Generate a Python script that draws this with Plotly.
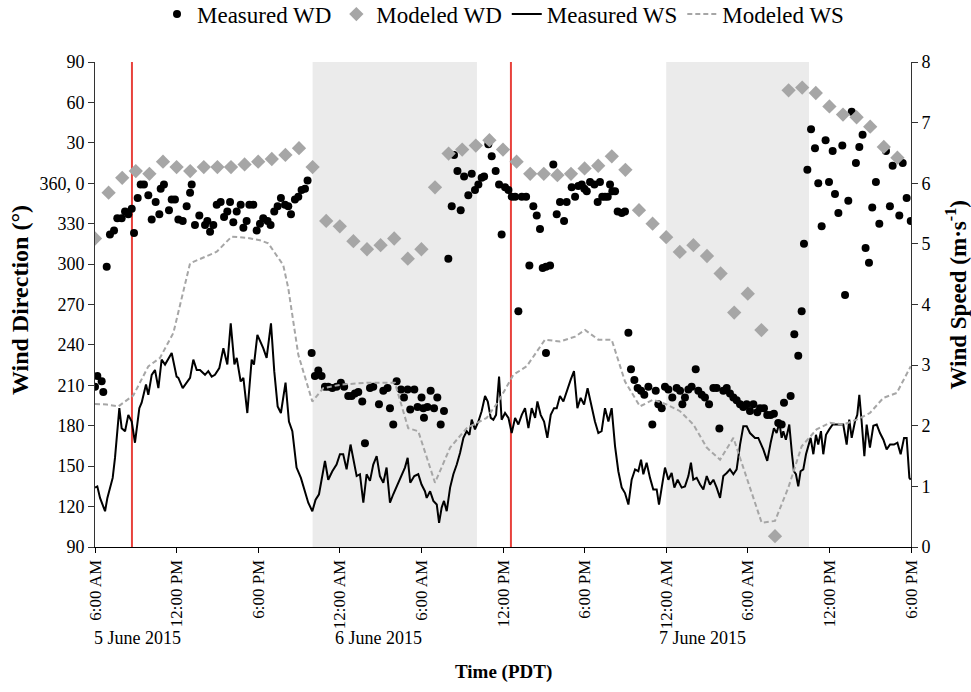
import plotly.graph_objects as go
import pandas as pd

# ---------------- data (hours since 06:00 PDT, 5 June 2015) ----------------
START = "2015-06-05 06:00"

WS_MEAS_H = [0.00, 0.17, 0.37, 0.61, 0.74, 0.91, 1.10, 1.30, 1.47, 1.54, 1.79, 1.96, 2.21, 2.45, 2.70, 2.94,
             3.26, 3.43, 3.75, 3.92, 4.17, 4.41, 4.66, 4.90, 5.15, 5.64, 6.00, 6.13, 6.45, 6.99, 7.23, 7.48,
             7.72, 8.09, 8.33, 8.58, 8.82, 9.14, 9.44, 9.73, 9.98, 10.25, 10.42, 10.71, 10.91, 11.20, 11.52,
             11.69, 11.94, 12.37, 12.62, 12.94, 13.18, 13.43, 13.67, 14.01, 14.26, 14.51, 14.82, 15.14, 15.44,
             15.68, 15.98, 16.22, 16.47, 16.66, 16.91, 17.15, 17.45, 17.76, 18.01, 18.25, 18.50, 18.79, 19.04,
             19.24, 19.48, 19.73, 19.97, 20.22, 20.46, 20.71, 20.95, 21.20, 21.44, 21.69, 21.93, 22.18, 22.50,
             22.79, 22.99, 23.18, 23.48, 23.77, 24.01, 24.26, 24.39, 24.64, 24.88, 25.13, 25.30, 25.49, 25.66,
             25.86, 26.11, 26.35, 26.60, 26.84, 27.09, 27.33, 27.53, 27.70, 27.94, 28.19, 28.43, 28.68, 28.88,
             29.10, 29.29, 29.49, 29.71, 29.90, 30.15, 30.40, 30.64, 30.89, 31.13, 31.38, 31.62, 31.87, 32.11,
             32.36, 32.53, 32.77, 33.02, 33.26, 33.51, 33.75, 33.95, 34.19, 34.44, 34.68, 34.98, 35.22, 35.47,
             35.71, 35.96, 36.22, 36.52, 36.76, 37.01, 37.25, 37.50, 37.75, 37.99, 38.24, 38.48, 38.73, 38.97,
             39.22, 39.46, 39.71, 39.95, 40.15, 40.32, 40.56, 40.81, 41.05, 41.30, 41.47, 41.67, 41.91, 42.16,
             42.40, 42.60, 42.84, 43.14, 43.38, 43.63, 43.82, 43.99, 44.24, 44.49, 44.73, 44.98, 45.22, 45.47,
             45.71, 45.96, 46.20, 46.45, 46.69, 46.94, 47.18, 47.43, 47.67, 47.92, 48.16, 48.53, 48.77, 49.14,
             49.43, 49.68, 49.92, 50.12, 50.32, 50.49, 50.61, 50.80, 51.05, 51.25, 51.39, 51.54, 51.71, 51.88,
             52.08, 52.28, 52.45, 52.62, 52.82, 53.01, 53.18, 53.38, 53.55, 53.75, 53.99, 54.24, 54.48, 54.73,
             55.02, 55.27, 55.46, 55.64, 55.88, 56.05, 56.20, 56.37, 56.57, 56.74, 56.98, 57.23, 57.48, 57.72,
             57.97, 58.21, 58.46, 58.75, 59.00, 59.24, 59.49, 59.68, 59.88, 59.98]
WS_MEAS = [0.98, 1.00, 0.81, 0.65, 0.59, 0.81, 0.98, 1.14, 1.47, 1.64, 2.29, 1.96, 1.91, 2.18, 2.07, 1.72,
           2.29, 2.38, 2.68, 2.51, 2.84, 2.92, 2.62, 3.09, 3.01, 3.20, 2.81, 2.79, 2.62, 2.79, 3.09, 2.92,
           2.92, 2.84, 2.90, 2.81, 2.84, 2.95, 3.28, 3.01, 3.69, 3.01, 3.12, 2.73, 2.79, 2.21, 3.09,
           3.01, 3.50, 3.28, 3.12, 3.69, 2.90, 2.32, 2.21, 2.71, 2.07, 1.91, 1.31, 1.14, 0.92,
           0.73, 0.59, 0.78, 0.87, 1.09, 1.42, 1.11, 1.25, 1.36, 1.53, 1.53, 1.28, 1.69, 1.42,
           1.17, 1.20, 0.73, 1.20, 1.09, 1.36, 1.50, 1.17, 1.06, 1.31, 0.73, 0.87, 1.00, 1.14,
           1.31, 1.47, 1.06, 1.17, 1.20, 1.03, 0.92, 0.81, 0.92, 0.76, 0.70, 0.40, 0.65, 0.76,
           0.59, 0.98, 1.20, 1.36, 1.55, 1.80, 1.91, 1.85, 2.10, 1.94, 2.07, 2.24, 2.49, 2.40,
           2.13, 2.10, 2.18, 2.81, 2.10, 2.21, 2.13, 1.88, 2.13, 2.02, 2.18, 2.29, 1.96, 2.29,
           2.13, 2.40, 2.18, 2.07, 1.80, 2.18, 2.29, 2.29, 2.49, 2.40, 2.57, 2.76, 2.90, 2.29,
           2.46, 2.35, 2.62, 2.29, 2.07, 1.88, 1.91, 2.29, 2.07, 2.29, 1.66, 1.25, 0.98, 0.89,
           0.70, 1.11, 1.28, 1.25, 1.44, 1.20, 1.39, 1.14, 0.95, 0.95, 0.70, 0.98, 1.31, 1.11,
           1.22, 0.98, 1.11, 0.98, 1.00, 1.17, 1.39, 1.11, 1.14, 1.03, 0.95, 1.17, 1.03, 1.11,
           0.98, 0.81, 1.17, 1.22, 1.28, 1.20, 1.28, 1.69, 1.99, 1.99, 1.88, 1.80, 1.80, 1.61,
           1.42, 1.72, 1.96, 1.88, 2.05, 1.80, 1.91, 1.77, 2.02, 1.53, 1.25, 1.20, 1.00, 1.25,
           1.28, 1.53, 1.69, 1.80, 1.53, 1.85, 1.69, 1.91, 1.53, 1.85, 1.94, 2.02, 2.02, 2.02,
           2.02, 1.69, 2.10, 1.80, 2.07, 2.18, 2.51, 2.07, 1.50, 2.02, 1.64, 2.00, 2.02, 1.88,
           1.77, 1.61, 1.69, 1.69, 1.72, 1.53, 1.80, 1.80, 1.14, 1.11]

WS_MOD_H = [0.00, 0.86, 1.72, 2.82, 3.92, 4.78, 5.76, 6.99, 8.95, 10.05, 11.15, 12.13, 12.74, 13.84, 14.21,
            14.95, 15.98, 16.78, 18.13, 20.09, 22.05, 23.03, 23.77, 25.00, 26.11, 27.33, 28.80, 29.66, 30.76,
            31.74, 33.09, 34.19, 35.30, 36.03, 37.01, 37.99, 38.97, 40.07, 41.05, 42.03, 43.02, 44.00, 44.98,
            45.96, 46.94, 47.92, 49.02, 50.00, 50.98, 51.96, 53.06, 54.04, 55.02, 56.00, 56.98, 57.97, 58.95,
            59.98]
WS_MOD = [2.36, 2.35, 2.32, 2.50, 2.98, 3.12, 3.53, 4.68, 4.87, 5.12, 5.10, 5.06, 5.01, 4.65, 4.27,
          3.17, 2.40, 2.62, 2.68, 2.71, 2.71, 1.96, 1.91, 1.06, 1.64, 1.96, 2.13, 2.40, 2.84,
          2.98, 3.42, 3.39, 3.47, 3.58, 3.42, 3.42, 2.73, 2.32, 2.43, 2.35, 2.24, 2.02, 1.64,
          1.44, 1.80, 1.14, 0.40, 0.43, 0.98, 1.66, 1.94, 2.05, 2.02, 2.10, 2.21, 2.46, 2.54,
          2.98]

WD_MEAS_H = [0.00, 0.17, 0.49, 0.61, 0.86, 1.10, 1.40, 1.64, 1.96, 2.21, 2.45, 2.70, 2.87, 3.14, 3.36, 3.60,
             3.92, 4.17, 4.46, 4.73, 4.83, 5.07, 5.44, 5.64, 5.88, 6.13, 6.45, 6.74, 6.99, 7.11, 7.35, 7.67,
             8.09, 8.26, 8.46, 8.70, 8.95, 9.24, 9.49, 9.73, 9.93, 10.17, 10.42, 10.71, 10.91, 11.15, 11.35,
             11.64, 11.89, 12.13, 12.37, 12.69, 12.91, 13.18, 13.43, 13.67, 13.97, 14.21, 14.41, 14.70, 14.95,
             15.19, 15.44, 15.63, 15.93, 16.17, 16.42, 16.66, 16.91, 17.15, 17.45, 17.76, 18.08, 18.32, 18.62,
             18.87, 19.11, 19.36, 19.65, 19.85, 20.22, 20.46, 20.88, 21.20, 21.51, 21.69, 21.93, 22.18, 22.50,
             22.72, 22.99, 23.18, 23.48, 23.72, 24.01, 24.14, 24.19, 24.44, 24.68, 24.93, 25.17, 25.42, 25.66,
             25.98, 26.23, 26.40, 26.65, 26.89, 27.14, 27.45, 27.70, 27.94, 28.19, 28.43, 28.61, 28.92, 29.17,
             29.46, 29.71, 29.90, 30.15, 30.40, 30.64, 30.89, 31.13, 31.38, 31.70, 31.94, 32.23, 32.48, 32.72,
             32.92, 33.16, 33.16, 33.46, 33.70, 33.95, 34.19, 34.49, 34.68, 35.05, 35.30, 35.54, 35.79, 35.98,
             36.16, 36.40, 36.72, 36.96, 37.13, 37.30, 37.50, 37.70, 37.87, 38.04, 38.24, 38.43, 38.73, 38.97,
             39.22, 39.41, 39.66, 39.90, 40.15, 40.39, 40.69, 40.98, 41.23, 41.42, 41.67, 41.91, 42.16, 42.45,
             42.77, 43.02, 43.19, 43.38, 43.63, 43.87, 44.17, 44.36, 44.61, 44.85, 45.15, 45.47, 45.71, 45.91,
             46.20, 46.45, 46.69, 46.94, 47.18, 47.43, 47.67, 47.92, 48.16, 48.41, 48.70, 48.90, 49.19, 49.43,
             49.68, 49.92, 50.24, 50.49, 50.66, 51.15, 51.42, 51.71, 51.96, 52.13, 52.38, 52.65, 52.94, 53.18,
             53.43, 53.72, 53.97, 54.24, 54.41, 54.66, 54.95, 55.15, 55.39, 55.64, 55.95, 56.20, 56.44, 56.66,
             56.91, 57.15, 57.42, 57.67, 58.16, 58.45, 58.65, 59.14, 59.39, 59.68, 59.98]
WD_MEAS = [209, 217, 213, 205, 298, 322, 325, 334, 334, 339, 337, 341, 323, 349, 359, 359,
           351, 333, 346, 337, 356, 359, 340, 348, 348, 333, 332, 343, 353, 359, 329, 336,
           329, 332, 324, 329, 344, 346, 335, 339, 346, 331, 339, 344, 327, 332, 344,
           344, 325, 330, 334, 332, 329, 339, 343, 349, 344, 343, 337, 348, 350,
           355, 356, 2, 234, 217, 221, 217, 209, 209, 208, 209, 212, 209, 202,
           202, 204, 205, 198, 167, 208, 209, 196, 206, 208, 193, 181, 213, 207,
           201, 207, 192, 207, 194, 201, 193, 186, 194, 206, 193, 201, 181, 191,
           304, 343, 21, 9, 340, 5, 351, 7, 355, 359, 4, 5, 29, 20,
           9, 359, 322, 357, 355, 350, 350, 265, 350, 350, 299, 343, 336, 326,
           297, 298, 234, 299, 14, 337, 346, 332, 346, 357, 350, 358, 359, 356,
           354, 1, 359, 346, 1, 350, 350, 350, 359, 354, 354, 339, 338, 339,
           249, 222, 214, 208, 206, 203, 209, 181, 206, 196, 193, 209, 207, 201,
           208, 206, 196, 201, 207, 209, 222, 206, 203, 201, 196, 208, 208, 178,
           206, 208, 204, 201, 199, 196, 194, 196, 191, 196, 190, 193, 193, 188,
           188, 189, 182, 181, 197, 202, 248, 232, 265, 315, 10, 40, 26, 0,
           328, 32, 1, 24, 352, 338, 28, 277, 347, 53, 15, 27, 36, 312,
           301, 342, 1, 330, 24, 343, 13, 336, 15, 349, 332]

WD_MOD_H = list(range(0, 60))
WD_MOD = [319, 353, 4, 9, 7, 16, 12, 9, 12, 12, 12, 14, 16, 18, 21, 26, 12, 332, 328, 317,
          311, 314, 319, 304, 311, 357, 22, 25, 28, 32, 25, 16, 7, 7, 6, 7, 11, 13, 20, 10,
          340, 330, 320, 309, 314, 306, 293, 264, 278, 251, 98, 69, 71, 67, 57, 51, 49, 42, 27, 19]

NIGHT_START = ["2015-06-05 22:00", "2015-06-07 00:00"]
NIGHT_END = ["2015-06-06 10:05", "2015-06-07 10:30"]
RED_LINES = ["2015-06-05 08:43", "2015-06-06 12:35"]

X_TICKS_H = [0, 6, 12, 18, 24, 30, 36, 42, 48, 54, 60]
X_TICK_LABELS = ["6:00 AM", "12:00 PM", "6:00 PM", "12:00 AM", "6:00 AM", "12:00 PM",
                 "6:00 PM", "12:00 AM", "6:00 AM", "12:00 PM", "6:00 PM"]
Y_TICK_VALS = [90, 120, 150, 180, 210, 240, 270, 300, 330, 360, 390, 420, 450]
Y_TICK_LABELS = ["90", "120", "150", "180", "210", "240", "270", "300", "330", "360, 0", "30", "60", "90"]
DATE_LABELS = ["5 June 2015", "6 June 2015", "7 June 2015"]
DATE_LABEL_X = [0.052, 0.347, 0.745]

# ---------------- helpers ----------------
t0 = pd.Timestamp(START)


def to_time(hours):
    return [t0 + pd.Timedelta(hours=h) for h in hours]


def unwrap(deg):
    # directions 0-90 are drawn above 360 on the axis
    return [d + 360 if d < 90 else d for d in deg]


FONT = "Liberation Serif, Times New Roman, serif"
GREY = "#A6A6A6"

fig = go.Figure()
fig.add_trace(go.Scatter(x=to_time(WD_MEAS_H), y=unwrap(WD_MEAS), mode="markers", name="Measured WD",
                         marker=dict(symbol="circle", size=8, color="black"), yaxis="y"))
fig.add_trace(go.Scatter(x=to_time(WD_MOD_H), y=unwrap(WD_MOD), mode="markers", name="Modeled WD",
                         marker=dict(symbol="diamond", size=11, color=GREY), yaxis="y"))
fig.add_trace(go.Scatter(x=to_time(WS_MEAS_H), y=WS_MEAS, mode="lines", name="Measured WS",
                         line=dict(color="black", width=2), yaxis="y2"))
fig.add_trace(go.Scatter(x=to_time(WS_MOD_H), y=WS_MOD, mode="lines", name="Modeled WS",
                         line=dict(color=GREY, width=2, dash="5px,3px"), yaxis="y2"))

shapes = []
for s, e in zip(NIGHT_START, NIGHT_END):
    shapes.append(dict(type="rect", xref="x", yref="paper", x0=s, x1=e, y0=0, y1=1,
                       fillcolor="#EBEBEB", line=dict(width=0), layer="below"))
for r in RED_LINES:
    shapes.append(dict(type="line", xref="x", yref="paper", x0=r, x1=r, y0=0, y1=1,
                       line=dict(color="#E8423C", width=2), layer="below"))

annotations = []
for lab, xp in zip(DATE_LABELS, DATE_LABEL_X):
    annotations.append(dict(text=lab, xref="paper", yref="paper", x=xp, y=-0.188, showarrow=False,
                            xanchor="center", yanchor="middle", font=dict(family=FONT, size=18, color="black")))
annotations.append(dict(text="<b>Time (PDT)</b>", xref="paper", yref="paper", x=0.5, y=-0.258,
                        showarrow=False, xanchor="center", yanchor="middle",
                        font=dict(family=FONT, size=19, color="black")))
annotations.append(dict(text="<b>Wind Direction (°)</b>", xref="paper", yref="paper", x=-0.092, y=0.509,
                        textangle=-90, showarrow=False, xanchor="center", yanchor="middle",
                        font=dict(family=FONT, size=24, color="black")))
annotations.append(dict(text="<b>Wind Speed (m·s<sup>-1</sup>)</b>", xref="paper", yref="paper", x=1.056,
                        y=0.52, textangle=-90, showarrow=False, xanchor="center", yanchor="middle",
                        font=dict(family=FONT, size=23, color="black")))

fig.update_layout(
    width=971, height=692, autosize=False,
    margin=dict(l=95, r=60, t=62, b=145, autoexpand=False),
    paper_bgcolor="white", plot_bgcolor="white",
    font=dict(family=FONT, color="black"),
    showlegend=True,
    legend=dict(orientation="h", x=0.5, xanchor="center", y=1.143, yanchor="top",
                font=dict(family=FONT, size=23, color="black"), bgcolor="rgba(0,0,0,0)",
                itemwidth=30),
    xaxis=dict(type="date", range=[t0, t0 + pd.Timedelta(hours=60)],
               tickvals=to_time(X_TICKS_H), ticktext=X_TICK_LABELS, tickangle=-90,
               ticks="outside", ticklen=5, tickcolor="black", showline=True, linecolor="black",
               linewidth=1, showgrid=False, zeroline=False,
               tickfont=dict(family=FONT, size=17, color="black")),
    yaxis=dict(range=[90, 450], tickvals=Y_TICK_VALS, ticktext=Y_TICK_LABELS, ticks="outside",
               ticklen=6, tickcolor="#333", showline=True, linecolor="#333", linewidth=1,
               showgrid=False, zeroline=False, tickfont=dict(family=FONT, size=18, color="black")),
    yaxis2=dict(range=[0, 8], dtick=1, overlaying="y", side="right", ticks="outside", ticklen=6,
                tickcolor="#333", showline=True, linecolor="#333", linewidth=1, showgrid=False,
                zeroline=False, tickfont=dict(family=FONT, size=18, color="black")),
    shapes=shapes,
    annotations=annotations,
)

fig.write_html("out.html")
